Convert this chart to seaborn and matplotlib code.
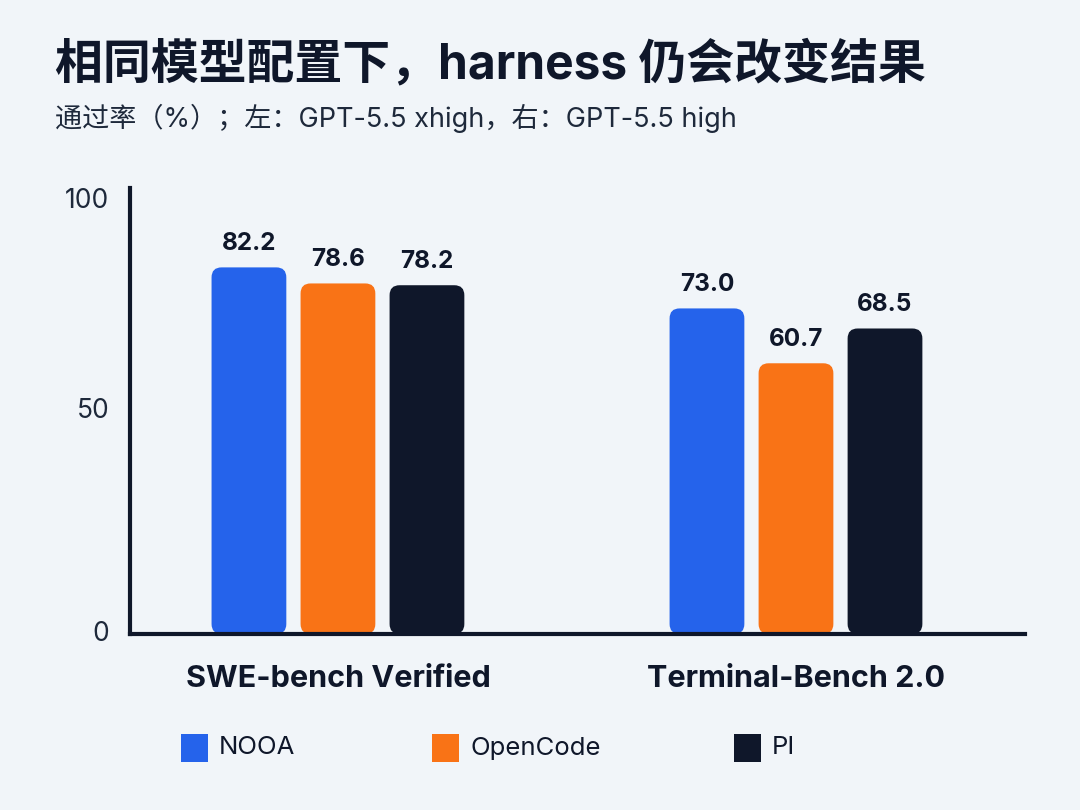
import pandas as pd
import matplotlib.pyplot as plt
import seaborn as sns
from matplotlib.patches import FancyBboxPatch, Rectangle

# Data
benchmarks = ["SWE-bench Verified", "Terminal-Bench 2.0"]
harnesses = ["NOOA", "OpenCode", "PI"]
swe_scores = [82.2, 78.6, 78.2]
tb_scores = [73.0, 60.7, 68.5]
y_ticks = [0, 50, 100]

title = "相同模型配置下，harness 仍会改变结果"
subtitle = "通过率（%）；左：GPT-5.5 xhigh，右：GPT-5.5 high"

colors = ["#2563EB", "#F97316", "#0F172A"]
bg = "#F1F5F9"
ink = "#0F172A"
fonts = ["Inter", "Noto Sans CJK SC", "DejaVu Sans"]

rows = []
for h, s in zip(harnesses, swe_scores):
    rows.append({"benchmark": benchmarks[0], "harness": h, "score": s})
for h, s in zip(harnesses, tb_scores):
    rows.append({"benchmark": benchmarks[1], "harness": h, "score": s})
df = pd.DataFrame(rows)

sns.set_theme(style="white")
plt.rcParams["font.family"] = fonts

fig = plt.figure(figsize=(10.8, 8.1), dpi=100, facecolor=bg)
ax = fig.add_axes([130 / 1080, 1 - 634 / 810, 895 / 1080, 446 / 810])
ax.set_facecolor(bg)

sns.barplot(data=df, x="benchmark", y="score", hue="harness", order=benchmarks,
            hue_order=harnesses, palette=colors, saturation=1, width=0.583,
            gap=0.16, legend=False, ax=ax, zorder=3)

ax.set_xlim(-0.454, 1.5)
ax.set_ylim(0, 100)

# Rounded bars: corner radius in pixels, converted to data units on each axis
radius_px = 10
fig.canvas.draw()
px_x = ax.transData.transform((1, 0))[0] - ax.transData.transform((0, 0))[0]
px_y = ax.transData.transform((0, 1))[1] - ax.transData.transform((0, 0))[1]
aspect = px_x / px_y

for p in list(ax.patches):
    x, y = p.get_x(), p.get_y()
    w, h = p.get_width(), p.get_height()
    fc = p.get_facecolor()
    p.remove()
    box = FancyBboxPatch((x, y), w, h,
                         boxstyle=f"round,pad=0,rounding_size={radius_px / px_x}",
                         mutation_aspect=aspect, facecolor=fc, edgecolor="none",
                         zorder=3)
    ax.add_patch(box)
    ax.annotate(f"{h:.1f}", (x + w / 2, h), xytext=(0, 9), textcoords="offset points",
                ha="center", va="bottom", fontsize=17.5, fontweight="bold",
                color=ink, family=fonts)

for side in ["top", "right"]:
    ax.spines[side].set_visible(False)
for side in ["left", "bottom"]:
    ax.spines[side].set_linewidth(3)
    ax.spines[side].set_color(ink)
    ax.spines[side].set_zorder(4)

ax.set_yticks(y_ticks)
ax.set_yticklabels([str(t) for t in y_ticks])
ax.tick_params(axis="y", length=0, pad=15, labelsize=19, labelcolor="#1E293B")
ax.tick_params(axis="x", length=0, pad=22, labelsize=22, labelcolor=ink)
for lab in ax.get_xticklabels():
    lab.set_fontweight("bold")
for lab in ax.get_yticklabels():
    lab.set_va("top" if lab.get_text() == "100" else "center")
ax.set_xlabel("")
ax.set_ylabel("")
ax.grid(False)

fig.text(55 / 1080, 1 - 78 / 810, title, fontsize=34.5, fontweight="bold",
         color=ink, va="baseline", ha="left", family=fonts)
fig.text(55 / 1080, 1 - 127 / 810, subtitle, fontsize=19.5,
         color="#1E293B", va="baseline", ha="left", family=fonts)

# Legend laid out on a fixed grid like the reference
swatch_x = [181, 432, 734]
for sx, name, c in zip(swatch_x, harnesses, colors):
    fig.add_artist(Rectangle((sx / 1080, 1 - 762 / 810), 27 / 1080, 28 / 810,
                             transform=fig.transFigure, facecolor=c, edgecolor="none"))
    fig.text((sx + 38) / 1080, 1 - 748 / 810, name, fontsize=18.5, color=ink,
             va="center", ha="left", family=fonts)

fig.savefig("out.png", dpi=100, facecolor=bg)
